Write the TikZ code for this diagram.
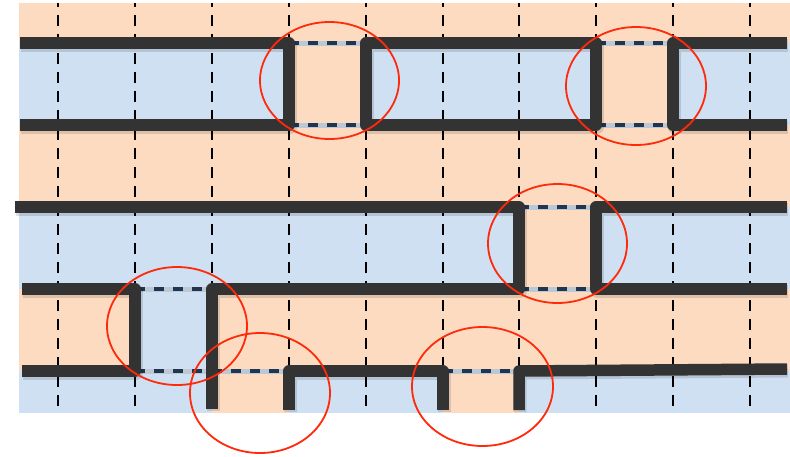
\documentclass[tikz,border=0pt]{standalone}
\definecolor{peach}{HTML}{FCDBC1}
\definecolor{skyb}{HTML}{CFE0F2}
\definecolor{barc}{HTML}{333333}
\definecolor{ringc}{HTML}{FF2A0A}
\definecolor{dashd}{HTML}{1F3550}
\definecolor{dashl}{HTML}{BCC8D4}
\newcommand\mybarpaths[1]{%
  \draw[#1] (20,43) -- (289,43) -- (289,125) -- (20,125);
  \draw[#1] (366,43) rectangle (596,125);
  \draw[#1] (787,43) -- (673,43) -- (673,125) -- (787,125);
  \draw[#1] (15,207) -- (519,207) -- (519,289) -- (212,289) -- (212,409);
  \draw[#1] (787,207) -- (596,207) -- (596,289) -- (787,289);
  \draw[#1] (22,289) -- (135,289) -- (135,371) -- (22,371);
  \draw[#1] (289,410) -- (289,371) -- (443,371) -- (443,410);
  \draw[#1] (519,410) -- (519,371) -- (787,369);
}
\begin{document}
\begin{tikzpicture}[x=1pt,y=-1pt,
  bar/.style={draw=barc,line width=11.5pt,line join=round},
  barshadow/.style={draw=black,opacity=0.12,line width=13pt,line join=round,shift={(1,2)}},
  gridline/.style={black,line width=2.5pt,dash pattern=on 11pt off 8pt,dash phase=7pt},
  linklight/.style={dashl,line width=5pt},
  linkdark/.style={dashd,line width=3.2pt,dash pattern=on 10pt off 9pt},
  ring/.style={draw=ringc,line width=1.8pt}]
\useasboundingbox (0,0) rectangle (790,456);
\fill[white] (0,0) rectangle (790,456);
% background bands
\fill[peach] (19,3) rectangle (790,43);
\fill[skyb] (19,43) rectangle (790,125);
\fill[peach] (289,43) rectangle (366,125);
\fill[peach] (596,43) rectangle (673,125);
\fill[peach] (19,125) rectangle (790,207);
\fill[skyb] (19,207) rectangle (790,289);
\fill[peach] (519,207) rectangle (596,289);
\fill[peach] (19,289) rectangle (790,371);
\fill[skyb] (135,289) rectangle (212,371);
\fill[skyb] (19,371) rectangle (790,413);
\fill[peach] (212,371) rectangle (289,413);
\fill[peach] (443,371) rectangle (519,413);
% vertical dashed grid
\foreach \gx in {58,135,212,289,366,443,519,596,673,750}
  \draw[gridline] (\gx,3) -- (\gx,413);
% dashed links
\foreach \ax/\bx/\ly in {289/366/43,596/673/43,289/366/125,596/673/125,519/596/207,519/596/289,135/212/289,135/212/371,212/289/371,443/519/371}{
  \coordinate (la) at (\ax,\ly);
  \coordinate (lb) at (\bx,\ly);
  \draw[linklight] (la) -- (lb);
  \draw[linkdark] (la) -- (lb);
}
% thick bars
\mybarpaths{barshadow}
\mybarpaths{bar}
% red rings
\draw[ring] (329.5,80.5) ellipse [x radius=69.5, y radius=58.5];
\draw[ring] (636,86) ellipse [x radius=70, y radius=59];
\draw[ring] (557.5,243.5) ellipse [x radius=69.5, y radius=59.5];
\draw[ring] (177,326) ellipse [x radius=70, y radius=59];
\draw[ring] (260,393) ellipse [x radius=70, y radius=60];
\draw[ring] (482.5,386.5) ellipse [x radius=70.5, y radius=59.5];
\end{tikzpicture}
\end{document}
